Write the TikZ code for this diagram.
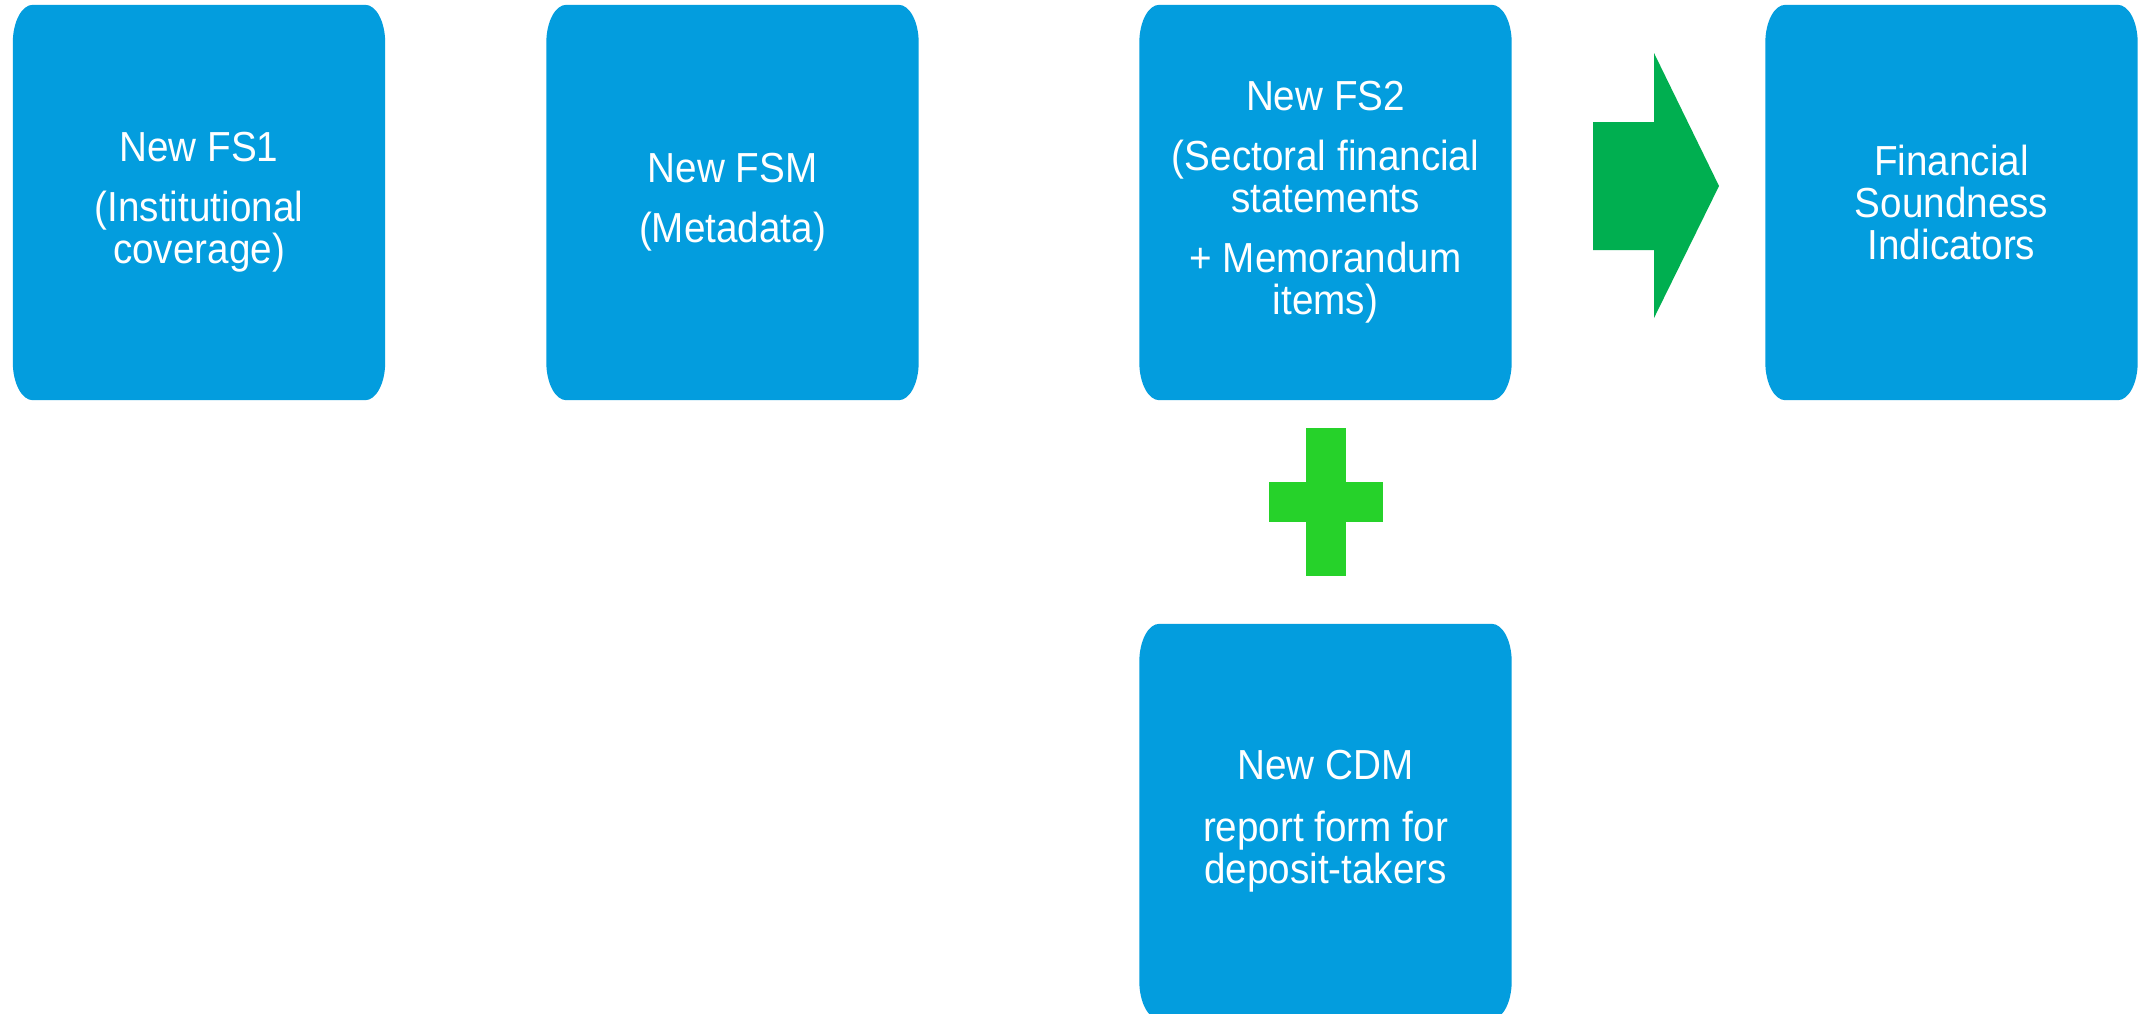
\documentclass[tikz,border=0pt]{standalone}
\usepackage{fontspec}
\newfontfamily\boxfont[FakeStretch=0.92]{Liberation Sans}
\usetikzlibrary{backgrounds}
\definecolor{boxblue}{HTML}{039DDE}
\definecolor{arrowgreen}{HTML}{00AF50}
\definecolor{plusgreen}{HTML}{26D22A}
\tikzset{
  fsbox/.style={rectangle, inner sep=0pt, minimum width=372pt, minimum height=395pt,
    text=white, align=center, font=\boxfont\fontsize{42}{42}\selectfont},
  crx/.style={x radius=20pt, y radius=38pt}
}
\newcommand\ellfill[1]{%
  \fill[boxblue] ([yshift=38pt]#1.south west) -- ([yshift=-38pt]#1.north west)
    arc[start angle=180, end angle=90, crx] -- ([xshift=-20pt]#1.north east)
    arc[start angle=90, end angle=0, crx] -- ([yshift=38pt]#1.south east)
    arc[start angle=0, end angle=-90, crx] -- ([xshift=20pt]#1.south west)
    arc[start angle=270, end angle=180, crx] -- cycle;}
\begin{document}
\begin{tikzpicture}[x=1pt,y=-1pt]
\useasboundingbox (0,0) rectangle (2138,1013);
\clip (0,0) rectangle (2138,1013);

\node[fsbox] (fs1) at (199,202.5) {New FS1\\[18pt](Institutional\\coverage)};
\node[fsbox] (fsm) at (732.5,202.5) {New FSM\\[18pt](Metadata)};
\node[fsbox] (fs2) at (1325.5,202.5) {New FS2\\[18pt](Sectoral financial\\statements\\[18pt]+ Memorandum\\items)};
\node[fsbox] (fsi) at (1951.5,202.5) {Financial\\Soundness\\Indicators};
\node[fsbox] (cdm) at (1325.5,821.5) {New CDM\\[20pt]report form for\\deposit-takers};

\begin{scope}[on background layer]
  \fill[white] (0,0) rectangle (2138,1013);
  \ellfill{fs1}
  \ellfill{fsm}
  \ellfill{fs2}
  \ellfill{fsi}
  \ellfill{cdm}
\end{scope}

% block arrow
\fill[arrowgreen] (1593,122) -- (1654,122) -- (1654,53) -- (1719,186)
  -- (1654,318) -- (1654,250) -- (1593,250) -- cycle;
% plus sign
\fill[plusgreen] (1306,428) rectangle (1346,576);
\fill[plusgreen] (1269,482) rectangle (1383,522);
\end{tikzpicture}
\end{document}
